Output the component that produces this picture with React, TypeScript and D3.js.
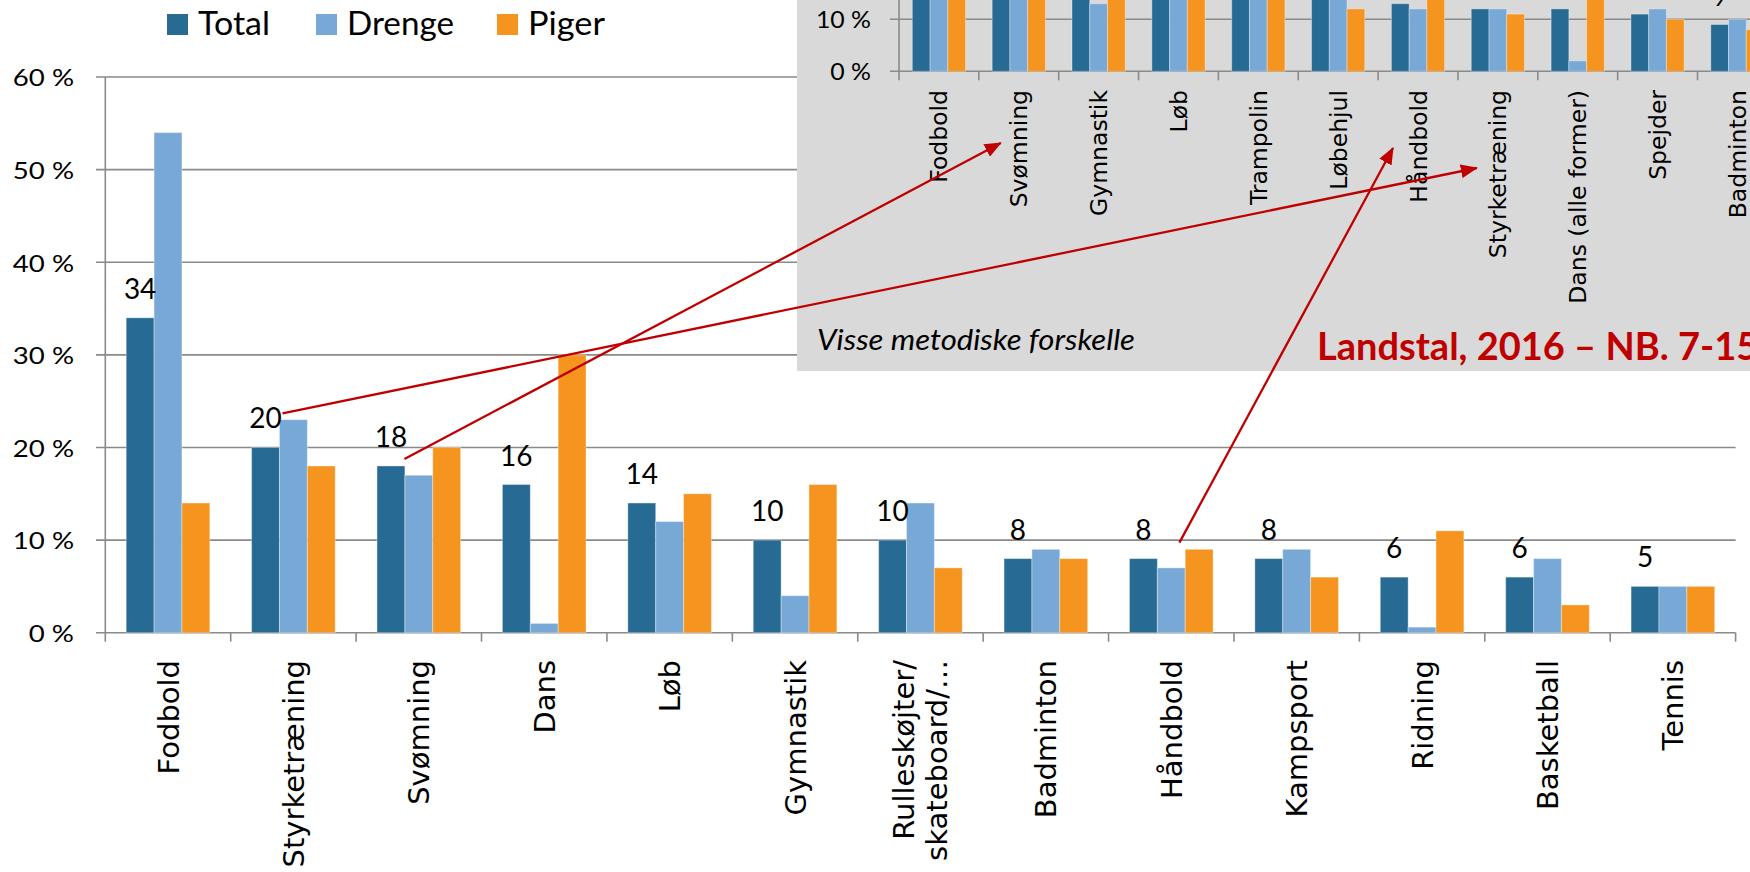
import React from 'react';
import * as d3 from 'd3';

const categories = ['Fodbold', 'Styrketræning', 'Svømning', 'Dans', 'Løb', 'Gymnastik', 'Rulleskøjter/|skateboard/…', 'Badminton', 'Håndbold', 'Kampsport', 'Ridning', 'Basketball', 'Tennis'];
const total = [34, 20, 18, 16, 14, 10, 10, 8, 8, 8, 6, 6, 5];
const drenge = [54, 23, 17, 1, 12, 4, 14, 9, 7, 9, 0.6, 8, 5];
const piger = [14, 18, 20, 30, 15, 16, 7, 8, 9, 6, 11, 3, 5];
const yTicks = [0, 10, 20, 30, 40, 50, 60];

const insetCategories = ['Fodbold', 'Svømning', 'Gymnastik', 'Løb', 'Trampolin', 'Løbehjul', 'Håndbold', 'Styrketræning', 'Dans (alle former)', 'Spejder', 'Badminton'];
const insetTotal = [31, 29, 21, 20, 17, 15, 13, 12, 12, 11, 9];
const insetDrenge = [51, 26, 13, 17, 14, 17, 12, 12, 2, 12, 10];
const insetPiger = [15, 31, 28, 23, 19, 12, 15, 11, 22, 10, 8];
const insetYTicks = [0, 10];

const seriesNames = ['Total', 'Drenge', 'Piger'];
const colors = ['#276A94', '#78A9D6', '#F5951F'];

const arrows = [
  { main: 'Styrketræning', inset: 'Styrketræning', sdx: 17, sdy: -34, edx: -21, ey: 168 },
  { main: 'Svømning', inset: 'Svømning', sdx: 13.5, sdy: -7, edx: -18, ey: 143 },
  { main: 'Håndbold', inset: 'Håndbold', sdx: 36, sdy: -16, edx: -25, ey: 148 },
];

const LATO = 'Lato, "Open Sans", sans-serif';
const DEJAVU = '"DejaVu Sans", Verdana, sans-serif';
const GRID = '#8a8a8a';
const RED = '#C00000';

export default function App() {
  const W = 1750, H = 872;
  const x = d3.scaleBand<string>().domain(categories).range([105.3, 1735.6]).paddingInner(0).paddingOuter(0);
  const bw = x.bandwidth() / 4.5;
  const x1 = d3.scaleBand<string>().domain(seriesNames).range([0.75 * bw, 3.75 * bw]);
  const y = d3.scaleLinear().domain([0, 60]).range([632.7, 77]);
  const mainSeries = [total, drenge, piger];

  const xi = d3.scaleBand<string>().domain(insetCategories).range([899, 899 + 79.85 * insetCategories.length]);
  const bwi = xi.bandwidth() / 4.5;
  const xi1 = d3.scaleBand<string>().domain(seriesNames).range([0.75 * bwi, 3.75 * bwi]);
  const yi = d3.scaleLinear().domain([0, 10]).range([71.3, 19.3]);
  const insetSeries = [insetTotal, insetDrenge, insetPiger];

  const axisY0 = y(0);
  const insetY0 = yi(0);
  const legendX = [167, 316, 497];
  const legendLen = [72, 107, 77];

  return (
    <svg width={W} height={H} style={{ position: 'absolute', left: 0, top: 0, background: '#fff' }}>
      <defs>
        <marker id="ah" markerUnits="userSpaceOnUse" markerWidth={18} markerHeight={14} refX={16} refY={7} orient="auto">
          <path d="M0,0 L17,7 L0,14 Z" fill={RED} />
        </marker>
        <clipPath id="insetClip">
          <rect x={797} y={0} width={W - 797} height={371} />
        </clipPath>
      </defs>

      {/* Legend */}
      {seriesNames.map((s, i) => (
        <g key={s}>
          <rect x={legendX[i]} y={14} width={21} height={21} fill={colors[i]} />
          <text x={legendX[i] + 31} y={34.5} fontFamily={LATO} fontSize={32} textLength={legendLen[i]} lengthAdjust="spacingAndGlyphs" fill="#000">{s}</text>
        </g>
      ))}

      {/* Main gridlines */}
      {yTicks.map((t) => (
        <g key={t}>
          <line x1={96} x2={1735.6} y1={y(t)} y2={y(t)} stroke={GRID} strokeWidth={1.6} />
          <text transform={`translate(74,${y(t)}) scale(1.15,1)`} textAnchor="end" dominantBaseline="central" fontFamily={LATO} fontSize={24} fill="#000">{`${t} %`}</text>
        </g>
      ))}
      <line x1={105.3} x2={105.3} y1={77} y2={axisY0 + 9} stroke={GRID} strokeWidth={1.6} />
      {categories.map((c) => (
        <line key={c} x1={(x(c) as number) + x.bandwidth()} x2={(x(c) as number) + x.bandwidth()} y1={axisY0} y2={axisY0 + 9} stroke={GRID} strokeWidth={1.6} />
      ))}

      {/* Main bars */}
      {categories.map((c, ci) => (
        <g key={c} transform={`translate(${x(c)},0)`}>
          {mainSeries.map((arr, si) => (
            <rect key={si} x={x1(seriesNames[si])} y={y(arr[ci])} width={x1.bandwidth()} height={axisY0 - y(arr[ci])} fill={colors[si]} stroke="#ffffff" strokeOpacity={0.35} strokeWidth={1} />
          ))}
          <text x={(x1('Total') as number) + x1.bandwidth() / 2} y={y(total[ci]) - 19} textAnchor="middle" fontFamily={LATO} fontSize={28} fill="#000">{total[ci]}</text>
        </g>
      ))}

      {/* Main category labels */}
      {categories.map((c) => {
        const cx = (x(c) as number) + x.bandwidth() / 2;
        const lines = c.split('|');
        return lines.map((ln, li) => {
          const off = lines.length === 1 ? 0 : (li - (lines.length - 1) / 2) * 33;
          const bx = cx + off + 10.5;
          return (
            <text key={c + li} transform={`translate(${bx},660) rotate(-90)`} textAnchor="end" fontFamily={DEJAVU} fontSize={29} fill="#000">{ln}</text>
          );
        });
      })}

      {/* Inset */}
      <g clipPath="url(#insetClip)">
        <rect x={797} y={0} width={W - 797} height={371} fill="#D9D9D9" />
        {insetYTicks.map((t) => (
          <g key={t}>
            <line x1={890} x2={W} y1={yi(t)} y2={yi(t)} stroke={GRID} strokeWidth={1.6} />
            <text transform={`translate(871,${yi(t)}) scale(1.08,1)`} textAnchor="end" dominantBaseline="central" fontFamily={LATO} fontSize={23} fill="#000">{`${t} %`}</text>
          </g>
        ))}
        <line x1={899} x2={899} y1={0} y2={insetY0 + 9} stroke={GRID} strokeWidth={1.6} />
        {insetCategories.map((c) => (
          <line key={c} x1={(xi(c) as number) + xi.bandwidth()} x2={(xi(c) as number) + xi.bandwidth()} y1={insetY0} y2={insetY0 + 9} stroke={GRID} strokeWidth={1.6} />
        ))}
        {insetCategories.map((c, ci) => {
          const labelY = yi(insetTotal[ci]) - 19;
          return (
            <g key={c} transform={`translate(${xi(c)},0)`}>
              {insetSeries.map((arr, si) => (
                <rect key={si} x={xi1(seriesNames[si])} y={yi(arr[ci])} width={xi1.bandwidth()} height={insetY0 - yi(arr[ci])} fill={colors[si]} stroke="#ffffff" strokeOpacity={0.35} strokeWidth={1} />
              ))}
              {labelY > 0 && (
                <text x={(xi1('Total') as number) + xi1.bandwidth() / 2} y={labelY} textAnchor="middle" fontFamily={LATO} fontSize={21} fill="#000">{insetTotal[ci]}</text>
              )}
            </g>
          );
        })}
        {insetCategories.map((c) => {
          const cx = (xi(c) as number) + xi.bandwidth() / 2;
          return (
            <text key={c} transform={`translate(${cx + 8.5},90) rotate(-90)`} textAnchor="end" fontFamily={DEJAVU} fontSize={23.5} fill="#000">{c}</text>
          );
        })}
        <text x={817} y={350} fontFamily={LATO} fontStyle="italic" fontSize={29} textLength={318} lengthAdjust="spacingAndGlyphs" fill="#000">Visse metodiske forskelle</text>
        <text x={1317} y={360} fontFamily={LATO} fontWeight="bold" fontSize={38} fill={RED}>Landstal, 2016 – NB. 7-15</text>
      </g>

      {/* Arrows */}
      {arrows.map((a, i) => {
        const ci = categories.indexOf(a.main);
        const sx = (x(a.main) as number) + (x1('Total') as number) + x1.bandwidth() / 2 + a.sdx;
        const sy = y(total[ci]) + a.sdy;
        const ex = (xi(a.inset) as number) + xi.bandwidth() / 2 + a.edx;
        return (
          <line key={i} x1={sx} y1={sy} x2={ex} y2={a.ey} stroke={RED} strokeWidth={2.3} markerEnd="url(#ah)" />
        );
      })}
    </svg>
  );
}
